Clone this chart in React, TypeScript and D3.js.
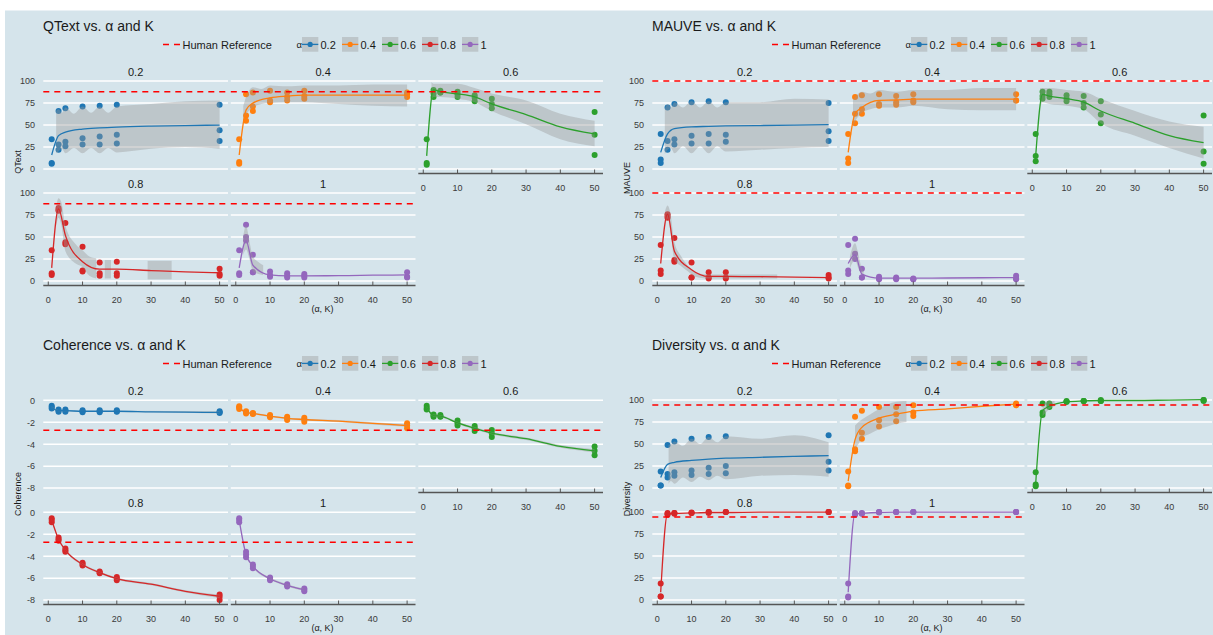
import React from "react";
import * as d3 from "d3";

// ---------- shared categories / ticks ----------
const ALPHAS = ["0.2", "0.4", "0.6", "0.8", "1"];
const COLORS = ["#1f77b4", "#ff7f0e", "#2ca02c", "#d62728", "#9467bd"];
const K_VALUES = [1, 3, 5, 10, 15, 20, 50];
const SMOOTH_K = [1, 3, 5, 10, 15, 20, 30, 40, 50];
const X_TICKS = [0, 10, 20, 30, 40, 50];
const PCT_TICKS = [0, 25, 50, 75, 100];
const COH_TICKS = [-8, -6, -4, -2, 0];

// ---------- QText ----------
const qtextHuman = 88;
const qtextPoints = [
  [[34, 7, 6], [66, 28, 22], [69, 31, 26], [71, 35, 28], [72, 37, 28], [73, 39, 29], [73, 44, 32]],
  [[34, 8, 6], [85, 61, 55], [87, 71, 66], [89, 78, 76], [87, 82, 78], [89, 83, 80], [87, 85, 82]],
  [[34, 7, 5], [90, 86, 82], [89, 87, 87], [88, 85, 82], [84, 81, 77], [80, 74, 69], [65, 39, 16]],
  [[35, 9, 7], [83, 81, 80], [66, 44, 42], [39, 12, 11], [21, 9, 6], [22, 9, 6], [14, 8, 6]],
  [[35, 9, 7], [64, 50, 46], [30, 10, 10], [11, 7, 5], [9, 6, 4], [8, 6, 4], [10, 5, 4]],
];
const qtextLines = [
  [16, 38, 42, 45.5, 46.8, 47.7, 48.8, 49.5, 50],
  [16, 67, 75, 81, 83, 84, 84, 84, 84],
  [15, 90, 88, 85.5, 82, 74, 62, 48, 40],
  [15, 82, 52, 22, 13.5, 13.5, 12, 10.5, 9.5],
  [15, 46, 18, 7, 6, 6, 6.2, 6.7, 7],
];
const qtextRibbons = [
  [[[2.3, 18, 66], [3, 20, 68], [4, 23, 64], [5, 18, 70], [7.5, 24, 63], [10, 18, 71], [12.5, 24, 64], [15, 18, 71], [17.5, 24, 64], [20, 19, 71], [30, 23, 74], [40, 25, 77], [50, 23, 78]]],
  [[[2.2, 55, 72], [3, 62, 82], [4, 67, 90], [5, 70, 93], [7.5, 74, 91], [10, 75, 95], [15, 76, 94], [20, 76, 95], [30, 74, 95], [40, 72, 96], [50, 71, 96]]],
  [[[2.4, 78, 99], [3, 82, 97], [5, 82, 97], [10, 80, 97], [15, 76, 92], [20, 66, 86], [30, 51, 78], [40, 34, 63], [50, 26, 55]]],
  [
    [[2.3, 62, 84], [3, 72, 94], [3.8, 64, 90], [5, 34, 63], [8, 20, 42], [10, 16, 35], [12, 6, 28], [14, 3, 26]],
    [[16.5, 3, 24], [18.3, 3, 24]],
    [[29, 2, 23], [36, 2, 23]],
  ],
  [[[2.2, 30, 52], [3, 36, 63], [4, 25, 45], [5, 11, 28], [6.5, 8, 22], [8, 7, 18]]],
];

// ---------- MAUVE ----------
const mauveHuman = 100;
const mauvePoints = [
  [[40, 11, 7], [70, 32, 22], [74, 34, 28], [76, 38, 29], [77, 40, 29], [76, 39, 31], [75, 43, 32]],
  [[40, 12, 7], [82, 63, 52], [84, 68, 63], [85, 74, 72], [83, 76, 73], [85, 78, 76], [85, 78, 78]],
  [[40, 15, 9], [88, 83, 80], [88, 85, 82], [84, 80, 77], [83, 75, 70], [77, 62, 52], [61, 20, 6]],
  [[41, 12, 8], [76, 74, 72], [49, 24, 22], [21, 4, 4], [10, 4, 3], [10, 4, 3], [7, 4, 3]],
  [[41, 12, 8], [48, 31, 25], [14, 4, 4], [5, 3, 2], [4, 3, 2], [3, 2, 2], [6, 3, 2]],
];
const mauveLines = [
  [19, 40, 46, 48, 48.5, 49, 49.5, 50, 50.5],
  [19, 63, 70, 78, 78.5, 79.5, 79.5, 79.5, 79.5],
  [15, 85, 83, 80, 76, 66, 52, 38, 30],
  [20, 76, 34, 13, 5.4, 5.4, 5, 4.5, 4],
  [20, 30, 8, 3.4, 3.4, 3.4, 3.5, 3.8, 4],
];
const mauveRibbons = [
  [[[2.2, 17, 68], [3, 22, 74], [4, 24, 70], [5, 18, 76], [7.5, 26, 70], [10, 18, 77], [12.5, 26, 70], [15, 18, 77], [17.5, 26, 70], [20, 20, 76], [30, 22, 76], [40, 24, 80], [50, 25, 79]]],
  [[[2.4, 48, 78], [3, 54, 82], [4, 60, 86], [5, 64, 88], [7.5, 68, 86], [10, 70, 90], [15, 70, 88], [20, 72, 90], [30, 68, 90], [40, 67, 92], [50, 67, 92]]],
  [[[2.3, 70, 92], [3, 76, 92], [5, 74, 92], [10, 72, 90], [15, 68, 88], [20, 52, 80], [30, 38, 66], [40, 24, 54], [50, 12, 48]]],
  [[[2.3, 62, 80], [3, 71, 86], [3.8, 58, 78], [5, 24, 44], [7, 17, 28], [9, 11, 17], [11, 5, 10], [15, 3, 7.5], [25, 3, 7.5], [35, 3, 7.5]]],
  [[[1.5, 14, 28], [3, 24, 43], [4, 14, 30], [5, 7, 14], [5.5, 6, 12]]],
];

// ---------- Coherence ----------
const coherenceHuman = -2.73;
const coherencePoints = [
  [[-0.5, -0.6, -0.75], [-0.85, -0.95, -1.05], [-0.85, -0.95, -1.05], [-0.9, -1.0, -1.1], [-0.9, -1.0, -1.1], [-0.9, -1.0, -1.05], [-1.0, -1.1, -1.15]],
  [[-0.55, -0.65, -0.8], [-1.0, -1.1, -1.2], [-1.15, -1.2, -1.25], [-1.35, -1.45, -1.55], [-1.5, -1.65, -1.8], [-1.6, -1.75, -1.95], [-2.1, -2.3, -2.55]],
  [[-0.5, -0.7, -0.85], [-1.3, -1.4, -1.5], [-1.35, -1.45, -1.5], [-1.85, -2.1, -2.3], [-2.35, -2.55, -2.8], [-2.7, -3.0, -3.35], [-4.2, -4.6, -5.0]],
  [[-0.55, -0.7, -0.9], [-2.3, -2.45, -2.6], [-3.3, -3.45, -3.6], [-4.6, -4.7, -4.85], [-5.4, -5.5, -5.55], [-5.9, -6.05, -6.2], [-7.5, -7.7, -8.0]],
  [[-0.55, -0.7, -0.9], [-3.6, -3.85, -4.1], [-4.75, -4.9, -5.1], [-5.95, -6.05, -6.2], [-6.55, -6.65, -6.75], [-6.95, -7.05, -7.2], []],
];
const coherenceLines = [
  [-0.65, -0.95, -0.95, -1.0, -1.0, -1.0, -1.05, -1.08, -1.1],
  [-0.7, -1.1, -1.2, -1.45, -1.65, -1.75, -1.9, -2.1, -2.3],
  [-0.65, -1.4, -1.45, -2.05, -2.55, -3.0, -3.5, -4.2, -4.6],
  [-0.7, -2.45, -3.45, -4.75, -5.5, -6.05, -6.55, -7.2, -7.65],
  [-0.7, -3.85, -4.9, -6.05, -6.65, -7.05, null, null, null],
];
const coherenceRibbons = [
  [[[1, -0.75, -0.55], [3, -1.0, -0.88], [5, -1.0, -0.9], [10, -1.05, -0.95], [20, -1.06, -0.95], [50, -1.2, -1.0]]],
  [[[1, -0.8, -0.6], [3, -1.17, -1.03], [5, -1.27, -1.13], [10, -1.52, -1.38], [15, -1.72, -1.58], [20, -1.83, -1.67], [30, -2.0, -1.8], [40, -2.2, -2.0], [50, -2.42, -2.18]]],
  [[[1, -0.78, -0.52], [3, -1.5, -1.3], [5, -1.55, -1.35], [10, -2.15, -1.95], [15, -2.67, -2.43], [20, -3.12, -2.88], [30, -3.62, -3.38], [40, -4.33, -4.07], [50, -4.75, -4.45]]],
  [[[1, -0.8, -0.6], [3, -2.55, -2.35], [5, -3.55, -3.35], [10, -4.85, -4.65], [15, -5.6, -5.4], [20, -6.15, -5.95], [30, -6.65, -6.45], [40, -7.3, -7.1], [50, -7.8, -7.5]]],
  [[[1, -0.8, -0.6], [3, -3.97, -3.73], [5, -5.0, -4.8], [10, -6.15, -5.95], [15, -6.75, -6.55], [20, -7.15, -6.95]]],
];

// ---------- Diversity ----------
const diversityHuman = 94.5;
const diversityPoints = [
  [[19, 3, 3], [49, 16, 12], [53, 18, 14], [56, 20, 15], [58, 23, 16], [59, 25, 17], [60, 30, 20]],
  [[19, 3, 2], [81, 44, 42], [88, 63, 56], [92, 77, 70], [92, 84, 76], [94, 86, 82], [96, 95, 94]],
  [[18, 4, 2], [96, 86, 83], [96, 95, 92], [99, 98, 98], [99, 99, 99], [100, 99, 99], [100, 100, 99]],
  [[19, 4, 4], [99, 98, 97], [99, 99, 98], [99.5, 99, 99], [100, 100, 99], [100, 100, 100], [100, 100, 100]],
  [[19, 4, 3], [99, 98, 97], [99, 98.5, 98], [100, 100, 99.5], [100, 100, 100], [100, 100, 100], [100, 100, 100]],
];
const diversityLines = [
  [12, 27, 29.3, 31.5, 33, 34, 35, 36, 37],
  [8, 55, 69, 79.5, 84, 87.5, 90, 93, 95.5],
  [5, 88, 93, 98, 99, 99.5, 99.5, 100, 100.5],
  [9, 98, 98.5, 99, 99.5, 99.5, 100, 100, 100],
  [9, 98, 98.5, 99.5, 100, 100, 100, 100, 100],
];
const diversityRibbons = [
  [[[3.3, 5, 49], [4, 8, 50], [5, 5, 53], [7.5, 12, 48], [10, 7, 56], [12.5, 13, 50], [15, 9, 58], [17.5, 14, 52], [20, 10, 59], [30, 14, 56], [40, 15, 60], [50, 13, 52]]],
  [[[3, 45, 71], [4, 50, 75], [5, 57, 78], [7.5, 62, 84], [10, 67, 90], [12.5, 70, 95], [15, 73, 98], [18, 75, 99]]],
  [[[3, 82, 93], [4, 86, 98], [5, 90, 99], [6.5, 93, 99]]],
  [],
  [],
];

// ---------- layout / style ----------
const FONT = "'Liberation Sans', Arial, Helvetica, sans-serif";
const BG = "#d5e4eb";
const TEXT = "#1a1a1a";
const TICK_TEXT = "#3a3a3a";
const X_DOMAIN: [number, number] = [-1.45, 52.45];
const PANEL_W = 184.7;
const COL_STEP = 187.5;
const COL0 = 43.3;
const ROW_TOP = [78, 190];
const ROW_BOTTOM = [173.5, 285.5];
const X_TITLE = "(\u03b1, K)";

type Metric = {
  title: string;
  yLabel: string;
  yLabelCenter: number;
  yTicks: number[];
  yDomain: [number, number];
  human: number;
  points: number[][][];
  lines: (number | null)[][];
  ribbons: number[][][][];
};

const METRICS: { m: Metric; ox: number; oy: number }[] = [
  { ox: 0, oy: 0, m: { title: "QText vs. \u03b1 and K", yLabel: "QText", yLabelCenter: 162, yTicks: PCT_TICKS, yDomain: [-5, 103.5], human: qtextHuman, points: qtextPoints, lines: qtextLines, ribbons: qtextRibbons } },
  { ox: 609, oy: 0, m: { title: "MAUVE vs. \u03b1 and K", yLabel: "MAUVE", yLabelCenter: 178, yTicks: PCT_TICKS, yDomain: [-5, 103.5], human: mauveHuman, points: mauvePoints, lines: mauveLines, ribbons: mauveRibbons } },
  { ox: 0, oy: 319, m: { title: "Coherence vs. \u03b1 and K", yLabel: "Coherence", yLabelCenter: 175, yTicks: COH_TICKS, yDomain: [-8.4, 0.3], human: coherenceHuman, points: coherencePoints, lines: coherenceLines, ribbons: coherenceRibbons } },
  { ox: 609, oy: 319, m: { title: "Diversity vs. \u03b1 and K", yLabel: "Diversity", yLabelCenter: 180, yTicks: PCT_TICKS, yDomain: [-5, 103.5], human: diversityHuman, points: diversityPoints, lines: diversityLines, ribbons: diversityRibbons } },
];

function Legend() {
  return (
    <g fontFamily={FONT}>
      <line x1={163} x2={180} y1={44.5} y2={44.5} stroke="#ff0000" strokeWidth={1.5} strokeDasharray="6 5" />
      <text x={182.5} y={48.5} fontSize={11} fill={TEXT}>Human Reference</text>
      <text x={296.5} y={48} fontSize={9.5} fill={TEXT}>{"\u03b1"}</text>
      {ALPHAS.map((a, i) => {
        const bx = 302 + i * 40;
        return (
          <g key={a}>
            <rect x={bx} y={37} width={16.3} height={14.7} fill="#999999" fillOpacity={0.4} />
            <line x1={bx} x2={bx + 16.3} y1={44.4} y2={44.4} stroke={COLORS[i]} strokeWidth={1.3} />
            <circle cx={bx + 8.15} cy={44.4} r={2.6} fill={COLORS[i]} />
            <text x={bx + 18.5} y={48.5} fontSize={11} fill={TEXT}>{a}</text>
          </g>
        );
      })}
    </g>
  );
}

function Panel({ m, i }: { m: Metric; i: number }) {
  const col = i % 3;
  const row = Math.floor(i / 3);
  const left = COL0 + col * COL_STEP;
  const top = ROW_TOP[row];
  const bottom = ROW_BOTTOM[row];
  const x = d3.scaleLinear().domain(X_DOMAIN).range([left, left + PANEL_W]);
  const y = d3.scaleLinear().domain(m.yDomain).range([bottom, top]);
  const color = COLORS[i];

  const lineGen = d3
    .line<[number, number | null]>()
    .defined((d) => d[1] !== null)
    .x((d) => x(d[0]))
    .y((d) => y(d[1] as number))
    .curve(d3.curveMonotoneX);
  const areaGen = d3
    .area<number[]>()
    .x((d) => x(d[0]))
    .y0((d) => y(d[1]))
    .y1((d) => y(d[2]))
    .curve(d3.curveMonotoneX);

  const lineData: [number, number | null][] = SMOOTH_K.map((k, j) => [k, m.lines[i][j]]);
  const hasXAxis = i >= 2;
  const hasYAxis = col === 0;

  return (
    <g>
      <text x={left + PANEL_W / 2} y={top - 2.3} fontSize={11} textAnchor="middle" fill={TEXT} fontFamily={FONT}>
        {ALPHAS[i]}
      </text>
      {m.yTicks.map((t) => (
        <line key={t} x1={left} x2={left + PANEL_W} y1={y(t)} y2={y(t)} stroke="#ffffff" strokeWidth={1.5} />
      ))}
      {K_VALUES.map((k, j) =>
        m.points[i][j].map((v, r) => <circle key={`${k}-${r}`} cx={x(k)} cy={y(v)} r={3} fill={color} />)
      )}
      {m.ribbons[i].map((seg, s) => (
        <path key={s} d={areaGen(seg) || ""} fill="#999999" fillOpacity={0.4} />
      ))}
      <path d={lineGen(lineData) || ""} fill="none" stroke={color} strokeWidth={1.3} />
      <line x1={left} x2={left + PANEL_W} y1={y(m.human)} y2={y(m.human)} stroke="#ff0000" strokeWidth={1.5} strokeDasharray="6 5" />
      {hasYAxis &&
        m.yTicks.map((t) => (
          <text key={t} x={35} y={y(t) + 3.3} fontSize={9} textAnchor="end" fill={TICK_TEXT} fontFamily={FONT}>
            {t}
          </text>
        ))}
      {hasXAxis && (
        <g>
          <line x1={left} x2={left + PANEL_W} y1={bottom} y2={bottom} stroke="#555555" strokeWidth={1.3} />
          {X_TICKS.map((t) => (
            <g key={t}>
              <line x1={x(t)} x2={x(t)} y1={bottom} y2={bottom - 4} stroke="#555555" strokeWidth={1} />
              <text x={x(t)} y={bottom + 17.5} fontSize={9} textAnchor="middle" fill={TICK_TEXT} fontFamily={FONT}>
                {t}
              </text>
            </g>
          ))}
        </g>
      )}
    </g>
  );
}

function FacetPlot({ m, ox, oy }: { m: Metric; ox: number; oy: number }) {
  return (
    <g transform={`translate(${ox},${oy})`}>
      <text x={43} y={30.5} fontSize={14} fill={TEXT} fontFamily={FONT}>
        {m.title}
      </text>
      <Legend />
      {ALPHAS.map((a, i) => (
        <Panel key={a} m={m} i={i} />
      ))}
      <text
        transform={`translate(21,${m.yLabelCenter}) rotate(-90)`}
        fontSize={9}
        textAnchor="middle"
        fill={TEXT}
        fontFamily={FONT}
      >
        {m.yLabel}
      </text>
      <text x={322.5} y={311.5} fontSize={9} textAnchor="middle" fill={TEXT} fontFamily={FONT}>
        {X_TITLE}
      </text>
    </g>
  );
}

export default function App() {
  return (
    <div style={{ position: "absolute", left: 0, top: 0 }}>
      <svg width={1213} height={635} style={{ display: "block", background: "#ffffff" }}>
        <rect x={5} y={10.5} width={1208} height={624.5} fill={BG} />
        {METRICS.map((d) => (
          <FacetPlot key={d.m.title} m={d.m} ox={d.ox} oy={d.oy} />
        ))}
      </svg>
    </div>
  );
}
